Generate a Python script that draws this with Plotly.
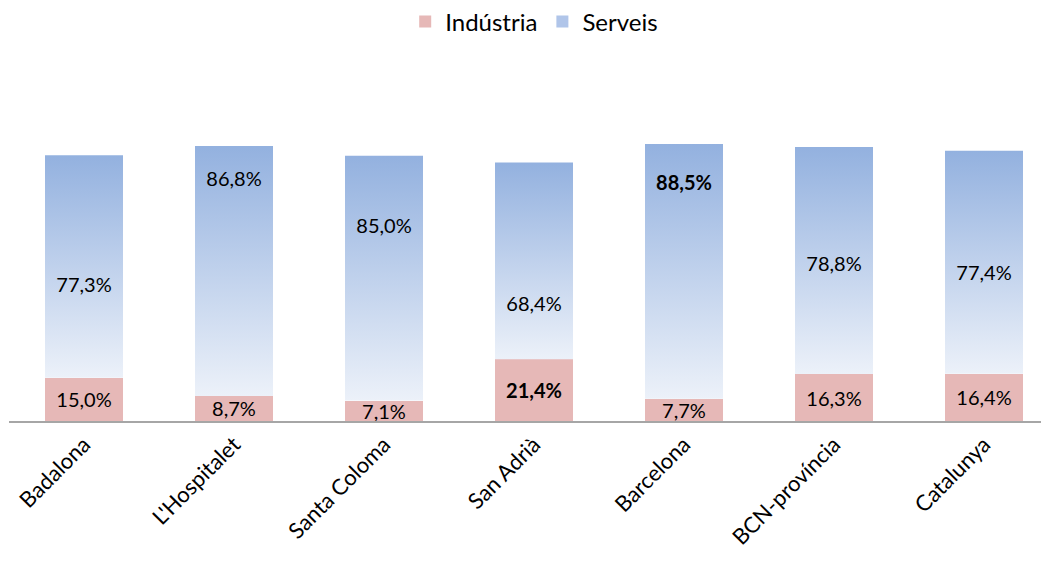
import plotly.graph_objects as go

categories = ["Badalona", "L'Hospitalet", "Santa Coloma", "San Adrià", "Barcelona", "BCN-província", "Catalunya"]
industria = [15.0, 8.7, 7.1, 21.4, 7.7, 16.3, 16.4]
serveis = [77.3, 86.8, 85.0, 68.4, 88.5, 78.8, 77.4]
# height (in axis units) where each Serveis label sits in the original
serveis_label_y = [46.6, 83.4, 67.0, 40.0, 82.0, 53.9, 50.7]
bold_industria = [False, False, False, True, False, False, False]
bold_serveis = [False, False, False, False, True, False, False]

FONT = "Lato, Carlito, Calibri, sans-serif"
PINK = "#e6b8b7"
BLUE_TOP = "#93b1df"
BLUE_BOTTOM = "#ecf1f9"
W = 0.52


def fmt(v, bold):
    s = f"{v:.1f}".replace(".", ",") + "%"
    return f"<b>{s}</b>" if bold else s


xs = list(range(len(categories)))
fig = go.Figure()

fig.add_trace(go.Bar(
    x=xs, y=industria, width=W, name="Indústria",
    marker=dict(color=PINK, line=dict(width=0)),
    text=[fmt(v, b) for v, b in zip(industria, bold_industria)],
    textposition="inside", insidetextanchor="middle", constraintext="none",
    textfont=dict(color="black", size=20, family=FONT),
    hoverinfo="skip",
))

for i, (x, ind, ser) in enumerate(zip(xs, industria, serveis)):
    top = ind + ser
    fig.add_trace(go.Scatter(
        x=[x - W / 2, x + W / 2, x + W / 2, x - W / 2, x - W / 2],
        y=[ind, ind, top, top, ind],
        mode="lines", line=dict(width=0), fill="toself",
        fillgradient=dict(type="vertical",
                          colorscale=[[0, BLUE_BOTTOM], [1, BLUE_TOP]]),
        showlegend=False, hoverinfo="skip",
    ))

# legend entry for Serveis as a square swatch
fig.add_trace(go.Bar(x=[None], y=[None], name="Serveis",
                     marker=dict(color="#b0c5e9", line=dict(width=0))))

fig.add_trace(go.Scatter(
    x=xs, y=serveis_label_y, mode="text",
    text=[fmt(v, b) for v, b in zip(serveis, bold_serveis)],
    textfont=dict(color="black", size=20, family=FONT),
    showlegend=False, hoverinfo="skip",
))

# page body has an 8px margin, so the figure is shifted by 8px
fig.update_layout(
    width=1041, height=553,
    margin=dict(l=1, r=0, t=125, b=140),
    paper_bgcolor="white", plot_bgcolor="white",
    barmode="stack",
    font=dict(family=FONT, color="black"),
    legend=dict(orientation="h", x=0.505, xanchor="center",
                yref="container", y=0.975, yanchor="middle",
                font=dict(size=24, family=FONT), traceorder="normal",
                itemwidth=30),
    xaxis=dict(range=[-0.5, -0.5 + 1040 / 150], tickmode="array", tickvals=xs,
               ticktext=categories, tickangle=-45, showgrid=False,
               zeroline=False, showline=True, linecolor="#a6a6a6", linewidth=2,
               tickfont=dict(size=22, family=FONT), automargin=False),
    yaxis=dict(range=[0, 100], visible=False, automargin=False),
)

fig.write_html("out.html")
